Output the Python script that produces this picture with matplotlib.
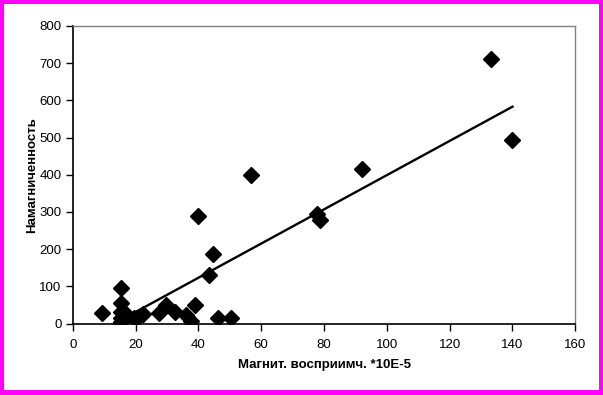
import numpy as np
import matplotlib
matplotlib.use("Agg")
import matplotlib.pyplot as plt
from matplotlib.patches import Rectangle

plt.rcParams['font.family'] = ['Liberation Sans', 'DejaVu Sans']

# Data
susceptibility = [9.4, 15.4, 15.4, 15.4, 15.4, 15.4, 17.0, 19.6, 20.5, 22.3, 27.6, 29.7, 32.4,
                  36.0, 37.7, 38.8, 39.8, 43.5, 44.6, 46.2, 50.5, 56.6, 77.6, 78.6, 92.0,
                  133.1, 140.0]
magnetization = [27, 95, 55, 30, 15, 5, 25, 15, 15, 26, 28, 50, 30, 24, 8, 51,
                 288, 130, 187, 14, 14, 400, 295, 278, 415, 712, 493]

# Linear trendline
trend_slope = 4.6
trend_intercept = -61.0

x_ticks = [0, 20, 40, 60, 80, 100, 120, 140, 160]
y_ticks = [0, 100, 200, 300, 400, 500, 600, 700, 800]

W, H = 603, 395
fig = plt.figure(figsize=(W / 100, H / 100), dpi=100)
fig.patch.set_facecolor('#FF00FF')
fig.add_artist(Rectangle((4 / W, 5 / H), (W - 8) / W, (H - 9) / H,
                         transform=fig.transFigure, facecolor='white',
                         edgecolor='none', zorder=0))

ax = fig.add_axes([72.8 / W, 1 - 323.5 / H, (575.3 - 72.8) / W, (323.5 - 26) / H])
ax.set_facecolor('white')

ax.plot(susceptibility, magnetization, linestyle='none', marker='D',
        markersize=8.5, color='black', zorder=3)

xs = np.array([min(susceptibility), max(susceptibility)])
ax.plot(xs, trend_slope * xs + trend_intercept, color='black', linewidth=1.7, zorder=2)

ax.set_xlim(0, 160)
ax.set_ylim(0, 800)
ax.set_xticks(x_ticks)
ax.set_yticks(y_ticks)
ax.set_xticklabels([str(v) for v in x_ticks])
ax.set_yticklabels([str(v) for v in y_ticks])

for s in ['left', 'bottom']:
    ax.spines[s].set_color('black')
    ax.spines[s].set_linewidth(1.2)
for s in ['top', 'right']:
    ax.spines[s].set_color('#808080')
    ax.spines[s].set_linewidth(1.0)

ax.tick_params(axis='both', direction='out', length=5, width=1, colors='black',
               labelsize=9.5, pad=3)
ax.tick_params(axis='x', pad=6)

ax.set_xlabel('Магнит. восприимч. *10E-5', fontsize=9.5, fontweight='bold', labelpad=6)
ax.set_ylabel('Намагниченность', fontsize=9.5, fontweight='bold', labelpad=1)

fig.savefig('out.png', dpi=100, facecolor=fig.get_facecolor())
